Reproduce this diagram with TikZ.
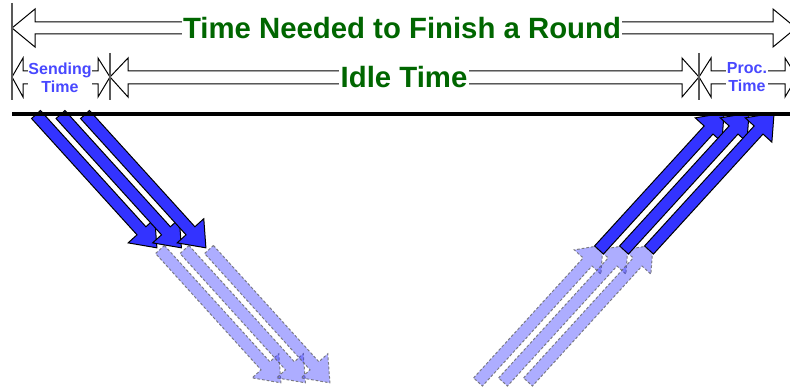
\documentclass[tikz,border=0pt]{standalone}
\usepackage{fontspec}
\setmainfont{Liberation Sans}
\definecolor{arrowblue}{RGB}{51,51,255}
\definecolor{txtgreen}{RGB}{0,102,0}
\definecolor{txtblue}{RGB}{72,72,255}
\tikzset{
  darkarr/.style={fill=arrowblue, draw=black, line width=0.75pt, line join=miter},
  lightarr/.style={fill=arrowblue, fill opacity=0.4, draw=black!60, draw opacity=0.8, dash pattern=on 2pt off 1.5pt, line width=0.75pt},
  spanarr/.style={fill=white, draw=black, line width=0.75pt},
  ticklin/.style={draw=black!65, line width=1.2pt},
  bigtxt/.style={font=\bfseries\fontsize{22}{24}\selectfont, text=txtgreen, fill=white, inner sep=1pt},
  smalltxt/.style={font=\bfseries\fontsize{12}{13.5}\selectfont, text=txtblue, fill=white, inner sep=0.5pt, align=center},
  pics/blockarr/.style n args={2}{code={\path[#2] (0,-6) -- ({#1-23},-6) -- ({#1-23},-18) -- (#1,0) -- ({#1-23},18) -- ({#1-23},6) -- (0,6) -- cycle;}}
}
\begin{document}
\begin{tikzpicture}[x=0.75pt,y=-0.75pt]
\useasboundingbox (0,0) rectangle (790,392);
\clip (0,0) rectangle (790,392);

% top span arrows
\path[spanarr] (12,28) -- (35,9) -- (35,22) -- (773,22) -- (773,9) -- (796,28) -- (773,47) -- (773,34) -- (35,34) -- (35,47) -- cycle;
\path[spanarr] (12,77) -- (23,58) -- (23,71) -- (98,71) -- (98,58) -- (110,77) -- (98,97) -- (98,84) -- (23,84) -- (23,97) -- cycle;
\path[spanarr] (110,77) -- (128,58) -- (128,71) -- (682,71) -- (682,58) -- (699,77) -- (682,97) -- (682,84) -- (128,84) -- (128,97) -- cycle;
\path[spanarr] (699,77) -- (711,58) -- (711,71) -- (785,71) -- (785,58) -- (797,77) -- (785,97) -- (785,84) -- (711,84) -- (711,97) -- cycle;

% ticks
\draw[ticklin] (12,3) -- (12,100);
\draw[ticklin] (110,53) -- (110,100);
\draw[ticklin] (699,53) -- (699,100);

% labels
\node[bigtxt] (round) at (402,28) {Time Needed to Finish a Round};
\node[bigtxt] (idle) at (404,77) {Idle Time};
\node[smalltxt] (send) at (60,77.5) {Sending\\Time};
\node[smalltxt] (proc) at (747,77.5) {Proc.\\Time};

% light (faded) arrows
\pic[rotate=-47.8] at (160,249.5) {blockarr={180}{lightarr}};
\pic[rotate=-47.8] at (184.5,249.5) {blockarr={180}{lightarr}};
\pic[rotate=-47.8] at (209,249.5) {blockarr={180}{lightarr}};
\pic[rotate=47.6] at (478,382) {blockarr={185.5}{lightarr}};
\pic[rotate=47.6] at (503,382) {blockarr={185.5}{lightarr}};
\pic[rotate=47.6] at (528,382) {blockarr={185.5}{lightarr}};

% dark arrows
\pic[rotate=-47.8] at (36,114.5) {blockarr={180}{darkarr}};
\pic[rotate=-47.8] at (60.5,114.5) {blockarr={180}{darkarr}};
\pic[rotate=-47.8] at (85,114.5) {blockarr={180}{darkarr}};
\pic[rotate=47.6] at (599,250) {blockarr={185.5}{darkarr}};
\pic[rotate=47.6] at (624,250) {blockarr={185.5}{darkarr}};
\pic[rotate=47.6] at (649,250) {blockarr={185.5}{darkarr}};

% time line
\draw[line width=3pt] (12,114) -- (790,114);
\end{tikzpicture}
\end{document}
